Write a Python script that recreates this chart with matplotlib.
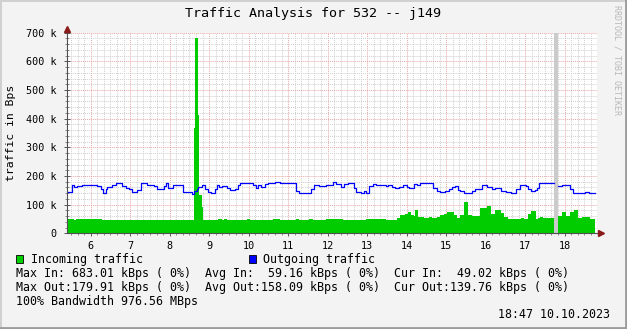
import numpy as np
import matplotlib
matplotlib.use('Agg')
import matplotlib.pyplot as plt
from matplotlib.patches import Rectangle
from matplotlib.lines import Line2D

plt.rcParams['font.family'] = 'DejaVu Sans Mono'

# time of day (hours) where a new value starts, values in kBps
out_t = [5.40, 5.53, 5.58, 5.65, 5.78, 6.16, 6.25, 6.32, 6.38, 6.42,
         6.55, 6.63, 6.80, 6.89, 6.97, 7.05, 7.18, 7.27, 7.43, 7.60,
         7.69, 7.86, 7.91, 7.96, 8.09, 8.33, 8.56, 8.62, 8.68, 8.72,
         8.81, 8.89, 8.98, 9.04, 9.15, 9.19, 9.26, 9.32, 9.44, 9.53,
         9.65, 9.74, 9.78, 10.12, 10.18, 10.24, 10.30, 10.41, 10.50, 10.67,
         10.79, 11.20, 11.28, 11.58, 11.66, 11.79, 11.96, 12.13, 12.21, 12.34,
         12.42, 12.51, 12.67, 12.72, 12.84, 12.93, 12.97, 13.05, 13.14, 13.22,
         13.37, 13.48, 13.54, 13.63, 13.71, 13.80, 13.92, 14.01, 14.05, 14.18,
         14.26, 14.34, 14.68, 14.77, 14.85, 14.98, 15.06, 15.15, 15.23, 15.30,
         15.36, 15.44, 15.65, 15.74, 15.91, 16.03, 16.16, 16.23, 16.39, 16.52,
         16.65, 16.77, 16.88, 17.03, 17.07, 17.14, 17.24, 17.31, 17.34, 17.73,
         17.83, 17.93, 18.13, 18.21, 18.38, 18.51, 18.63]
out_v = [145, 168, 161, 165, 170, 165, 153, 141, 153, 162,
         170, 174, 165, 159, 153, 145, 150, 174, 170, 165,
         153, 165, 174, 157, 169, 145, 136, 148, 153, 162,
         169, 153, 145, 141, 153, 169, 162, 166, 159, 150,
         155, 168, 174, 168, 159, 168, 162, 172, 174, 178,
         174, 148, 139, 153, 169, 164, 169, 180, 171, 162,
         171, 176, 159, 145, 139, 148, 139, 166, 172, 167,
         168, 164, 170, 161, 157, 161, 168, 161, 157, 172,
         170, 174, 157, 148, 145, 148, 155, 160, 164, 152,
         148, 141, 148, 155, 168, 161, 153, 159, 148, 145,
         141, 153, 170, 166, 153, 148, 150, 159, 174, np.nan,
         166, 170, 153, 141, 139, 145, 141]

in_t = [5.40, 5.58, 5.63, 6.29, 8.615, 8.65, 8.71, 8.74, 8.81, 8.85,
        9.22, 9.32, 9.37, 9.45, 9.96, 10.03, 10.62, 10.79, 11.20, 11.27,
        11.53, 11.63, 11.96, 12.39, 12.97, 13.48, 13.75, 13.84, 13.96, 14.03,
        14.12, 14.18, 14.22, 14.30, 14.43, 14.56, 14.64, 14.77, 14.85, 14.94,
        15.02, 15.19, 15.27, 15.36, 15.44, 15.55, 15.65, 15.86, 16.03, 16.14,
        16.24, 16.39, 16.46, 16.56, 16.89, 16.97, 17.07, 17.15, 17.28, 17.32,
        17.37, 17.45, 17.73, 17.83, 17.93, 18.04, 18.13, 18.24, 18.33, 18.43,
        18.64]
in_v = [50, 47, 50, 47, 368, 683, 414, 135, 93, 47,
        50, 47, 50, 47, 50, 47, 50, 47, 50, 47,
        50, 47, 50, 48, 49, 48, 53, 65, 67, 74,
        65, 60, 80, 58, 55, 58, 55, 58, 65, 69,
        76, 65, 55, 65, 108, 65, 62, 90, 94, 67,
        81, 72, 58, 51, 54, 51, 67, 78, 51, 55,
        58, 53, np.nan, 59, 76, 59, 76, 80, 53, 58,
        50]
t_end = 18.77

unknown = (17.73, 17.83)
hours = list(range(6, 19))
y_ticks = [0, 100, 200, 300, 400, 500, 600, 700]
y_labels = ['0'] + [f'{v} k' for v in y_ticks[1:]]


def steps(t, v, end):
    edges = np.append(t, end)
    x = np.repeat(edges, 2)[1:-1]
    y = np.repeat(np.asarray(v, float), 2)
    return x, y


W, H = 627, 329
fig = plt.figure(figsize=(W / 100, H / 100), dpi=100)
fig.patch.set_facecolor('#F3F3F3')
ax = fig.add_axes([67 / W, 95.7 / H, 530 / W, 200.6 / H])
ax.set_facecolor('white')

xi, yi = steps(in_t, in_v, t_end)
xo, yo = steps(out_t, out_v, t_end)
ax.fill_between(xi, 0, yi, color='#00CC00', lw=0, zorder=2)
ax.plot(xo, yo, color='#0000FF', lw=0.9, zorder=3)
ax.axvspan(*unknown, color='#CBCBCB', lw=0, zorder=2.5)

ax.set_xlim(5.40, 18.82)
ax.set_ylim(0, 700)
ax.set_xticks(hours)
ax.set_xticks(np.arange(5.5, 18.8, 1 / 6), minor=True)
ax.set_yticks(y_ticks)
ax.set_yticklabels(y_labels)
ax.set_yticks(np.arange(0, 701, 20), minor=True)
ax.set_axisbelow(True)
ax.grid(which='minor', color='#CFCFCF', ls=(0, (1, 1)), lw=0.7)
ax.grid(which='major', color='#E8A6A6', ls=(0, (1, 1)), lw=0.7)
ax.tick_params(which='major', direction='inout', length=5, width=0.7,
               color='#555555', labelsize=7.3, pad=3)
ax.tick_params(which='minor', direction='inout', length=3, width=0.6,
               color='#777777')
ax.tick_params(axis='y', pad=5)
for s in ax.spines.values():
    s.set_visible(False)

# axis lines with arrow heads
ax.plot([0, 1.006], [0, 0], transform=ax.transAxes, color='#505050',
        lw=0.8, clip_on=False, zorder=4)
ax.plot([0, 0], [0, 1.018], transform=ax.transAxes, color='#505050',
        lw=0.8, clip_on=False, zorder=4)
ax.plot(1.008, 0, marker='>', ms=4, color='#8B1A1A', transform=ax.transAxes,
        clip_on=False, zorder=5)
ax.plot(0, 1.02, marker='^', ms=4, color='#8B1A1A', transform=ax.transAxes,
        clip_on=False, zorder=5)

fig.text(313 / W, 1 - 14 / H, 'Traffic Analysis for 532 -- j149',
         ha='center', va='center', fontsize=9.6)
fig.text(11 / W, 1 - 133 / H, 'traffic in Bps', rotation=90,
         ha='center', va='center', fontsize=8.2)
fig.text(617 / W, 1 - 60 / H, 'RRDTOOL / TOBI OETIKER', rotation=270,
         ha='center', va='center', fontsize=6, color='#B8B8B8')

# legend
for x0, col, lab, tx in [(16, '#00CC00', 'Incoming traffic', 31),
                          (249, '#0000FF', 'Outgoing traffic', 263)]:
    fig.add_artist(Rectangle((x0 / W, 1 - 263 / H), 7 / W, 8 / H,
                             transform=fig.transFigure, facecolor=col,
                             edgecolor='black', lw=0.6))
    fig.text(tx / W, 1 - 259 / H, lab, ha='left', va='center', fontsize=8.35)

rows = ['Max In: 683.01 kBps ( 0%)  Avg In:  59.16 kBps ( 0%)  Cur In:  49.02 kBps ( 0%)',
        'Max Out:179.91 kBps ( 0%)  Avg Out:158.09 kBps ( 0%)  Cur Out:139.76 kBps ( 0%)',
        '100% Bandwidth 976.56 MBps']
for i, r in enumerate(rows):
    fig.text(16 / W, 1 - (273 + 14 * i) / H, r, ha='left', va='center',
             fontsize=8.35)
fig.text(610 / W, 1 - 315 / H, '18:47 10.10.2023', ha='right', va='center',
         fontsize=8.35)

# 3d-ish frame
fig.add_artist(Line2D([0, 1], [1 - 1 / H, 1 - 1 / H], transform=fig.transFigure,
                      color='#D0D0D0', lw=1.4))
fig.add_artist(Line2D([1 / W, 1 / W], [0, 1], transform=fig.transFigure,
                      color='#D0D0D0', lw=1.4))
fig.add_artist(Line2D([0, 1], [1 / H, 1 / H], transform=fig.transFigure,
                      color='#9C9C9C', lw=2))
fig.add_artist(Line2D([1 - 1 / W, 1 - 1 / W], [0, 1], transform=fig.transFigure,
                      color='#9C9C9C', lw=2))

fig.savefig('out.png', dpi=100, facecolor=fig.get_facecolor())
